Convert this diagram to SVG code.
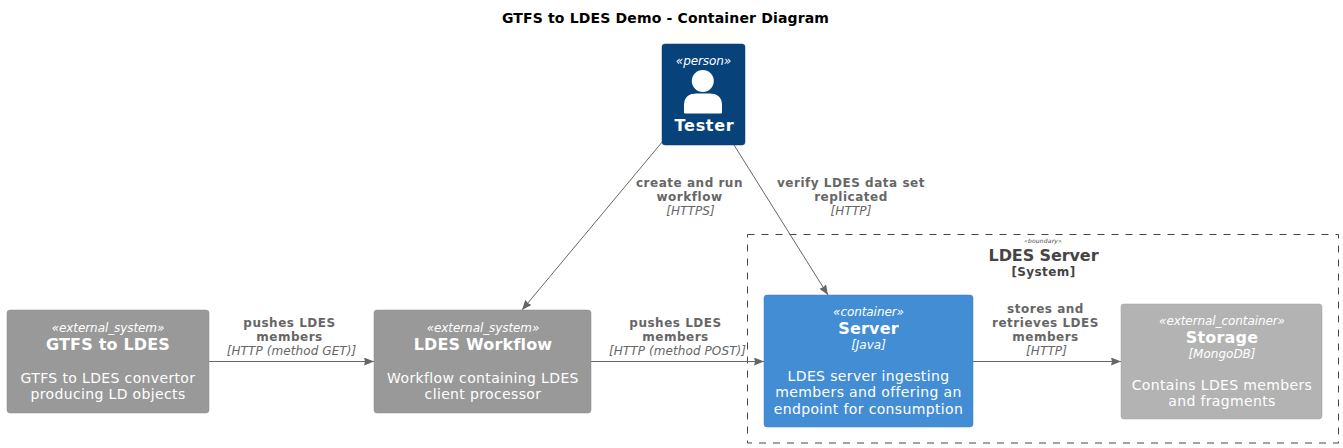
<svg xmlns="http://www.w3.org/2000/svg" width="1343" height="448" viewBox="0 0 1343 448">
<style>
text{font-family:"DejaVu Sans",sans-serif;text-anchor:middle;opacity:.999}
.box{rx:3;ry:3;stroke-width:.5}
.st{font-size:12px;font-style:italic;fill:#fff;letter-spacing:-.08px}
.nm{font-size:16px;font-weight:bold;fill:#fff;letter-spacing:.18px}
.ds{font-size:14px;fill:#fff;letter-spacing:.36px}
.tc{font-size:12px;font-style:italic;fill:#fff}
.lb{font-size:12px;font-weight:bold;fill:#666;letter-spacing:.52px}
.li{font-size:12px;font-style:italic;fill:#666;letter-spacing:.1px}
.cn{fill:none;stroke:#666;stroke-width:1;marker-end:url(#ah)}
</style>
<defs>
<marker id="ah" markerUnits="userSpaceOnUse" markerWidth="10" markerHeight="8" refX="10" refY="4" orient="auto"><path d="M0 0L10 4L0 8L1 4Z" fill="#666"/></marker>
</defs>
<rect width="1343" height="448" fill="#fff"/>
<text x="665.5" y="22.5" font-size="14" font-weight="bold" fill="#000" letter-spacing=".16">GTFS to LDES Demo - Container Diagram</text>
<g id="boundary">
<rect x="747.5" y="234.5" width="591" height="208.5" fill="none" stroke="#444" stroke-dasharray="7 7"/>
<text x="1043" y="242.5" font-size="6" font-style="italic" fill="#444" letter-spacing=".2">«boundary»</text>
<text x="1043.5" y="261" font-size="16" font-weight="bold" fill="#444" letter-spacing="-.1">LDES Server</text>
<text x="1043.5" y="276" font-size="12" font-weight="bold" fill="#444" letter-spacing=".4">[System]</text>
</g>
<g id="connectors">
<path class="cn" d="M209 361.5H374"/>
<path class="cn" d="M591 361.5H764"/>
<path class="cn" d="M973 361.5H1121"/>
<path class="cn" d="M663 141L522 310"/>
<path class="cn" d="M734 145L828 295"/>
<text class="lb" x="289.5" y="327">pushes LDES</text>
<text class="lb" x="289.5" y="341">members</text>
<text class="li" x="291.5" y="355">[HTTP (method GET)]</text>
<text class="lb" x="675.5" y="327">pushes LDES</text>
<text class="lb" x="675.5" y="341">members</text>
<text class="li" x="677.5" y="355">[HTTP (method POST)]</text>
<text class="lb" x="1045.5" y="313">stores and</text>
<text class="lb" x="1045.5" y="327">retrieves LDES</text>
<text class="lb" x="1045.5" y="341">members</text>
<text class="li" x="1046.5" y="355">[HTTP]</text>
<text class="lb" x="689.5" y="187">create and run</text>
<text class="lb" x="689.5" y="201">workflow</text>
<text class="li" x="690.5" y="215">[HTTPS]</text>
<text class="lb" x="851" y="187">verify LDES data set</text>
<text class="lb" x="851" y="201">replicated</text>
<text class="li" x="851" y="215">[HTTP]</text>
</g>
<g id="tester">
<rect class="box" x="662" y="44" width="83" height="101" fill="#08427B" stroke="#073B6F"/>
<text class="st" x="703.5" y="65">«person»</text>
<circle cx="702.8" cy="81" r="11" fill="#fff"/>
<path d="M684.5 113V105Q684.5 94 696 94H710Q721.5 94 721.5 105V113Z" fill="#fff" stroke="#fff" stroke-linejoin="round"/>
<text class="nm" x="704.5" y="131" style="letter-spacing:.7px">Tester</text>
</g>
<g id="gtfs">
<rect class="box" x="7" y="310" width="202" height="103" fill="#999" stroke="#8A8A8A"/>
<text class="st" x="108" y="332">«external_system»</text>
<text class="nm" x="108" y="350">GTFS to LDES</text>
<text class="ds" x="108" y="383">GTFS to LDES convertor</text>
<text class="ds" x="108" y="399">producing LD objects</text>
</g>
<g id="workflow">
<rect class="box" x="374" y="310" width="217" height="103" fill="#999" stroke="#8A8A8A"/>
<text class="st" x="483" y="332">«external_system»</text>
<text class="nm" x="483" y="350">LDES Workflow</text>
<text class="ds" x="483" y="383">Workflow containing LDES</text>
<text class="ds" x="483" y="399">client processor</text>
</g>
<g id="server">
<rect class="box" x="764" y="295" width="209" height="132" fill="#438DD5" stroke="#3C7FC0"/>
<text class="st" x="868.5" y="316">«container»</text>
<text class="nm" x="868.5" y="334">Server</text>
<text class="tc" x="868.5" y="349">[Java]</text>
<text class="ds" x="868.5" y="381">LDES server ingesting</text>
<text class="ds" x="868.5" y="397">members and offering an</text>
<text class="ds" x="868.5" y="414">endpoint for consumption</text>
</g>
<g id="storage">
<rect class="box" x="1121" y="304" width="201" height="115" fill="#B3B3B3" stroke="#A2A2A2"/>
<text class="st" x="1222" y="325">«external_container»</text>
<text class="nm" x="1222" y="343">Storage</text>
<text class="tc" x="1222" y="358">[MongoDB]</text>
<text class="ds" x="1222" y="390">Contains LDES members</text>
<text class="ds" x="1222" y="406">and fragments</text>
</g>
</svg>
